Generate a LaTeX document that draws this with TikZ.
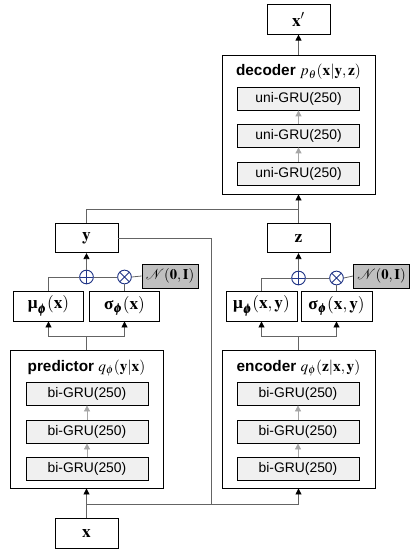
\documentclass[tikz,border=0pt]{standalone}
\usepackage{amsmath}
\usepackage{mathptmx}
\usepackage{bm}
\usepackage[no-math]{fontspec}
\setsansfont{Liberation Sans}
\newfontfamily\grk{Liberation Serif}
\usetikzlibrary{arrows.meta}

\definecolor{circblue}{RGB}{35,55,135}
\definecolor{grufill}{RGB}{240,240,240}
\definecolor{noisefill}{RGB}{192,192,192}
\definecolor{linegray}{RGB}{100,100,100}

% upright bold greek
\newcommand{\bmu}{\mbox{\grk\bfseries μ}}
\newcommand{\bsig}{\mbox{\grk\bfseries σ}}

\tikzset{
	varbox/.style={draw, line width=0.65pt, minimum width=47.25pt, minimum height=22pt, inner sep=0pt, font=\fontsize{13}{15}\selectfont},
	parbox/.style={varbox, minimum width=52pt, minimum height=22.5pt},
	bigbox/.style={draw, line width=0.65pt, minimum width=114.75pt, minimum height=103.5pt, inner sep=0pt},
	title/.style={font=\fontsize{11.5}{13}\selectfont\sffamily\bfseries, inner sep=0pt},
	grubox/.style={draw, line width=0.6pt, fill=grufill, minimum width=91.5pt, minimum height=17.25pt, inner sep=0pt, font=\fontsize{10.4}{12}\selectfont\sffamily},
	noisebox/.style={draw, line width=0.6pt, fill=noisefill, minimum width=42pt, minimum height=18pt, inner sep=0pt, font=\fontsize{11}{13}\selectfont},
	oplus/.style={circle, draw=circblue, line width=0.7pt, fill=white, minimum size=10.25pt, inner sep=0pt,
		path picture={\draw[circblue, line width=0.7pt] (path picture bounding box.north) -- (path picture bounding box.south) (path picture bounding box.west) -- (path picture bounding box.east);}},
	otimes/.style={circle, draw=circblue, line width=0.7pt, fill=white, minimum size=10.25pt, inner sep=0pt,
		path picture={\draw[circblue, line width=0.7pt] (path picture bounding box.north east) -- (path picture bounding box.south west) (path picture bounding box.north west) -- (path picture bounding box.south east);}},
	conn/.style={draw=linegray, line width=0.6pt},
	arr/.style={conn, -{Triangle[length=4.5pt, width=4.5pt, black]}},
	gruarr/.style={draw=gray!70, line width=0.6pt, -{Triangle[length=4.5pt, width=4.5pt]}}
}

\begin{document}
\begin{tikzpicture}[x=0.75pt, y=-0.75pt]
	\useasboundingbox (0,0) rectangle (416,555);
	
	% decoder
	\node[varbox] (xp) at (298.5,19.5) {$\mathbf{x}'$};
	\node[bigbox, minimum height=104.25pt] (dec) at (298.5,124.5) {};
	\node[title] at (298.5,72) {decoder $p_\theta(\mathbf{x}|\mathbf{y},\mathbf{z})$};
	\foreach \n/\yy in {1/173.5, 2/135.5, 3/98.5}{
		\node[grubox] (d\n) at (298.5,\yy) {uni-GRU(250)};
	}
	
	% latent variables
	\node[varbox] (y) at (86.5,238) {$\mathbf{y}$};
	\node[varbox] (z) at (298.5,238) {$\mathbf{z}$};
	
	% sampling (left)
	\node[oplus] (pl) at (86.5,277) {};
	\node[otimes] (tl) at (124.5,277) {};
	\node[noisebox] (nl) at (170,276) {$\mathcal{N}(\mathbf{0},\mathbf{I})$};
	\node[parbox] (mul) at (48.5,306) {$\bmu_{\bm{\phi}}(\mathbf{x})$};
	\node[parbox] (sigl) at (124.5,306) {$\bsig_{\bm{\phi}}(\mathbf{x})$};
	
	% sampling (right)
	\node[oplus] (pr) at (298.5,278) {};
	\node[otimes] (tr) at (336.5,278) {};
	\node[noisebox] (nr) at (381.5,276) {$\mathcal{N}(\mathbf{0},\mathbf{I})$};
	\node[parbox, minimum width=53.25pt] (mur) at (261.5,306) {$\bmu_{\bm{\phi}}(\mathbf{x},\mathbf{y})$};
	\node[parbox, minimum width=53.25pt] (sigr) at (336.5,306) {$\bsig_{\bm{\phi}}(\mathbf{x},\mathbf{y})$};
	
	% predictor and encoder
	\node[bigbox] (pred) at (86.5,419) {};
	\node[title] at (86.5,368) {predictor $q_\phi(\mathbf{y}|\mathbf{x})$};
	\node[bigbox] (enc) at (298.5,419) {};
	\node[title] at (298.5,368) {encoder $q_\phi(\mathbf{z}|\mathbf{x},\mathbf{y})$};
	\foreach \n/\yy in {1/468.5, 2/431.5, 3/393.5}{
		\node[grubox] (p\n) at (87,\yy) {bi-GRU(250)};
		\node[grubox] (e\n) at (298,\yy) {bi-GRU(250)};
	}
	\node[varbox] (x) at (86.5,533.5) {$\mathbf{x}$};
	
	\coordinate (topjoin) at (298.5,209);
	\coordinate (botjoin) at (86.5,504);
	\coordinate (ydown) at (211,504);
	\coordinate (splitl) at (86.5,336);
	\coordinate (splitr) at (298.5,336);
	
	% gray arrows inside the stacks
	\foreach \a/\b in {1/2, 2/3}{
		\draw[gruarr] (d\a) -- (d\b);
		\draw[gruarr] (p\a) -- (p\b);
		\draw[gruarr] (e\a) -- (e\b);
	}
	
	% connectors
	\draw[arr] (dec) -- (xp);
	\draw[arr] (z) -- (dec);
	\draw[conn] (y.north) |- (topjoin);
	\draw[conn] (y.east) -| (ydown);
	\draw[arr] (x) -- (pred);
	\draw[arr] (botjoin) -| (enc.south);
	\foreach \s/\m/\v/\p/\t/\n in {splitl/mul/sigl/pl/tl/nl, splitr/mur/sigr/pr/tr/nr}{
		\draw[arr] (\s) -| (\m.south);
		\draw[arr] (\s) -| (\v.south);
		\draw[conn] (\m.north) |- (\p.west);
		\draw[conn] (\p.east) -- (\t.west);
		\draw[conn] (\t.east) -- (\n.west);
		\draw[conn] (\v.north) -- (\t.south);
	}
	\draw[conn] (pred.north) -- (splitl);
	\draw[conn] (enc.north) -- (splitr);
	\draw[arr] (pl) -- (y);
	\draw[arr] (pr) -- (z);
\end{tikzpicture}
\end{document}
